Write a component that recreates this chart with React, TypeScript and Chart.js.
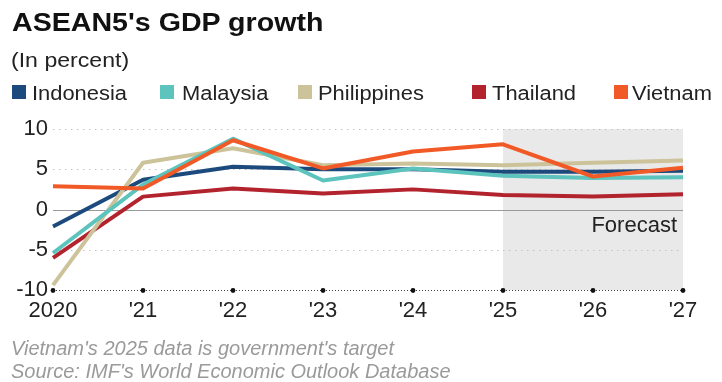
import React, { useEffect, useRef } from "react";
import { Chart, registerables } from "chart.js";
Chart.register(...registerables);

const years = ["2020", "'21", "'22", "'23", "'24", "'25", "'26", "'27"];
const indonesia = [-2.1, 3.7, 5.3, 5.0, 5.0, 4.7, 4.7, 4.8];
const malaysia = [-5.4, 3.1, 8.8, 3.6, 5.1, 4.2, 3.9, 4.0];
const philippines = [-9.4, 5.8, 7.6, 5.5, 5.7, 5.5, 5.8, 6.1];
const thailand = [-6.0, 1.6, 2.6, 2.0, 2.5, 1.8, 1.6, 1.9];
const vietnam = [2.9, 2.6, 8.6, 5.1, 7.2, 8.1, 4.1, 5.2];
const yTicks = [-10, -5, 0, 5, 10];
const forecastStart = "'25";

const seriesNames = ["Indonesia", "Malaysia", "Philippines", "Thailand", "Vietnam"];
const seriesColors = ["#1c4a7d", "#5cc3bd", "#cdc39b", "#b2232d", "#f15a27"];
const seriesData = [indonesia, malaysia, philippines, thailand, vietnam];
const seriesOrder = [4, 1, 2, 3, 0];

const FONT = "'Liberation Sans', Arial, Helvetica, sans-serif";

const bgPlugin = {
  id: "bg",
  beforeDatasetsDraw(chart: any) {
    const { ctx, chartArea: a, scales } = chart;
    const x = scales.x;
    const y = scales.y;
    const fx = x.getPixelForValue(years.indexOf(forecastStart));
    ctx.save();
    ctx.fillStyle = "#e9e9e9";
    ctx.fillRect(fx, a.top, a.right - fx, a.bottom - a.top);
    yTicks.forEach((v) => {
      const py = Math.round(y.getPixelForValue(v)) + 0.5;
      ctx.beginPath();
      ctx.lineWidth = 1;
      if (v === 0) {
        ctx.setLineDash([]);
        ctx.strokeStyle = "#9a9a9a";
      } else if (v === yTicks[0]) {
        ctx.setLineDash([1, 2]);
        ctx.strokeStyle = "#444";
      } else {
        ctx.setLineDash([1.5, 4.5]);
        ctx.strokeStyle = "#c2c2c2";
      }
      ctx.moveTo(a.left, py);
      ctx.lineTo(a.right, py);
      ctx.stroke();
    });
    ctx.setLineDash([]);
    ctx.font = "22px " + FONT;
    ctx.textAlign = "right";
    ctx.textBaseline = "middle";
    ctx.fillStyle = "#222";
    ctx.fillText("Forecast", a.right - 6, y.getPixelForValue(-2.1));
    ctx.restore();
  },
  afterDatasetsDraw(chart: any) {
    const { ctx, scales } = chart;
    const x = scales.x;
    const y = scales.y;
    ctx.save();
    ctx.fillStyle = "#111";
    years.forEach((_, i) => {
      ctx.beginPath();
      ctx.arc(x.getPixelForValue(i), y.getPixelForValue(yTicks[0]) + 0.5, 2.4, 0, Math.PI * 2);
      ctx.fill();
    });
    ctx.restore();
  },
};

const textBase: React.CSSProperties = {
  position: "absolute",
  lineHeight: 1,
  whiteSpace: "nowrap",
  transformOrigin: "0 0",
};

export default function App() {
  const ref = useRef<HTMLCanvasElement>(null);
  useEffect(() => {
    if (!ref.current) return;
    const chart = new Chart(ref.current, {
      type: "line",
      data: {
        labels: years,
        datasets: seriesNames.map((n, i) => ({
          label: n,
          data: seriesData[i],
          borderColor: seriesColors[i],
          backgroundColor: seriesColors[i],
          borderWidth: 4,
          pointRadius: 0,
          tension: 0,
          order: seriesOrder[i],
          borderJoinStyle: "round" as const,
        })),
      },
      options: {
        animation: false,
        responsive: false,
        devicePixelRatio: 1,
        events: [],
        layout: { padding: { top: 129, left: 0, right: 39, bottom: 52 } },
        plugins: { legend: { display: false }, tooltip: { enabled: false }, title: { display: false } },
        scales: {
          x: {
            type: "category",
            offset: false,
            grid: { display: false, drawTicks: false },
            border: { display: false },
            ticks: { font: { size: 22, family: FONT }, color: "#222", padding: 8, maxRotation: 0, autoSkip: false },
            afterFit: (s: any) => { s.height = 40; },
          },
          y: {
            min: -10,
            max: 10,
            grid: { display: false, drawTicks: false },
            border: { display: false },
            ticks: { stepSize: 5, font: { size: 22, family: FONT }, color: "#222", padding: 5 },
            afterFit: (s: any) => { s.width = 53; },
          },
        },
      },
      plugins: [bgPlugin],
    });
    return () => chart.destroy();
  }, []);

  const legendBoxX = [12, 160, 298, 472, 614];
  const legendTextX = [32, 182, 318, 492, 632];

  return (
    <div style={{ position: "fixed", left: 0, top: 0, width: 722, height: 382, background: "#fff", fontFamily: FONT, overflow: "hidden" }}>
      <canvas ref={ref} width={722} height={382} style={{ position: "absolute", left: 0, top: 0, width: 722, height: 382 }} />
      <div style={{ ...textBase, left: 12, top: 9, fontSize: 26, fontWeight: "bold", color: "#111", transform: "scaleX(1.1)" }}>
        ASEAN5's GDP growth
      </div>
      <div style={{ ...textBase, left: 11, top: 49, fontSize: 21, color: "#222", transform: "scaleX(1.1)" }}>
        (In percent)
      </div>
      {seriesNames.map((n, i) => (
        <React.Fragment key={n}>
          <div style={{ position: "absolute", left: legendBoxX[i], top: 85, width: 14, height: 14, background: seriesColors[i] }} />
          <div style={{ ...textBase, left: legendTextX[i], top: 82.5, fontSize: 20, color: "#222", transform: "scaleX(1.095)" }}>
            {n}
          </div>
        </React.Fragment>
      ))}
      <div style={{ ...textBase, left: 11, top: 338, fontSize: 20, fontStyle: "italic", color: "#9a9a9a" }}>
        Vietnam's 2025 data is government's target
      </div>
      <div style={{ ...textBase, left: 11, top: 361, fontSize: 20, fontStyle: "italic", color: "#9a9a9a" }}>
        Source: IMF's World Economic Outlook Database
      </div>
    </div>
  );
}
